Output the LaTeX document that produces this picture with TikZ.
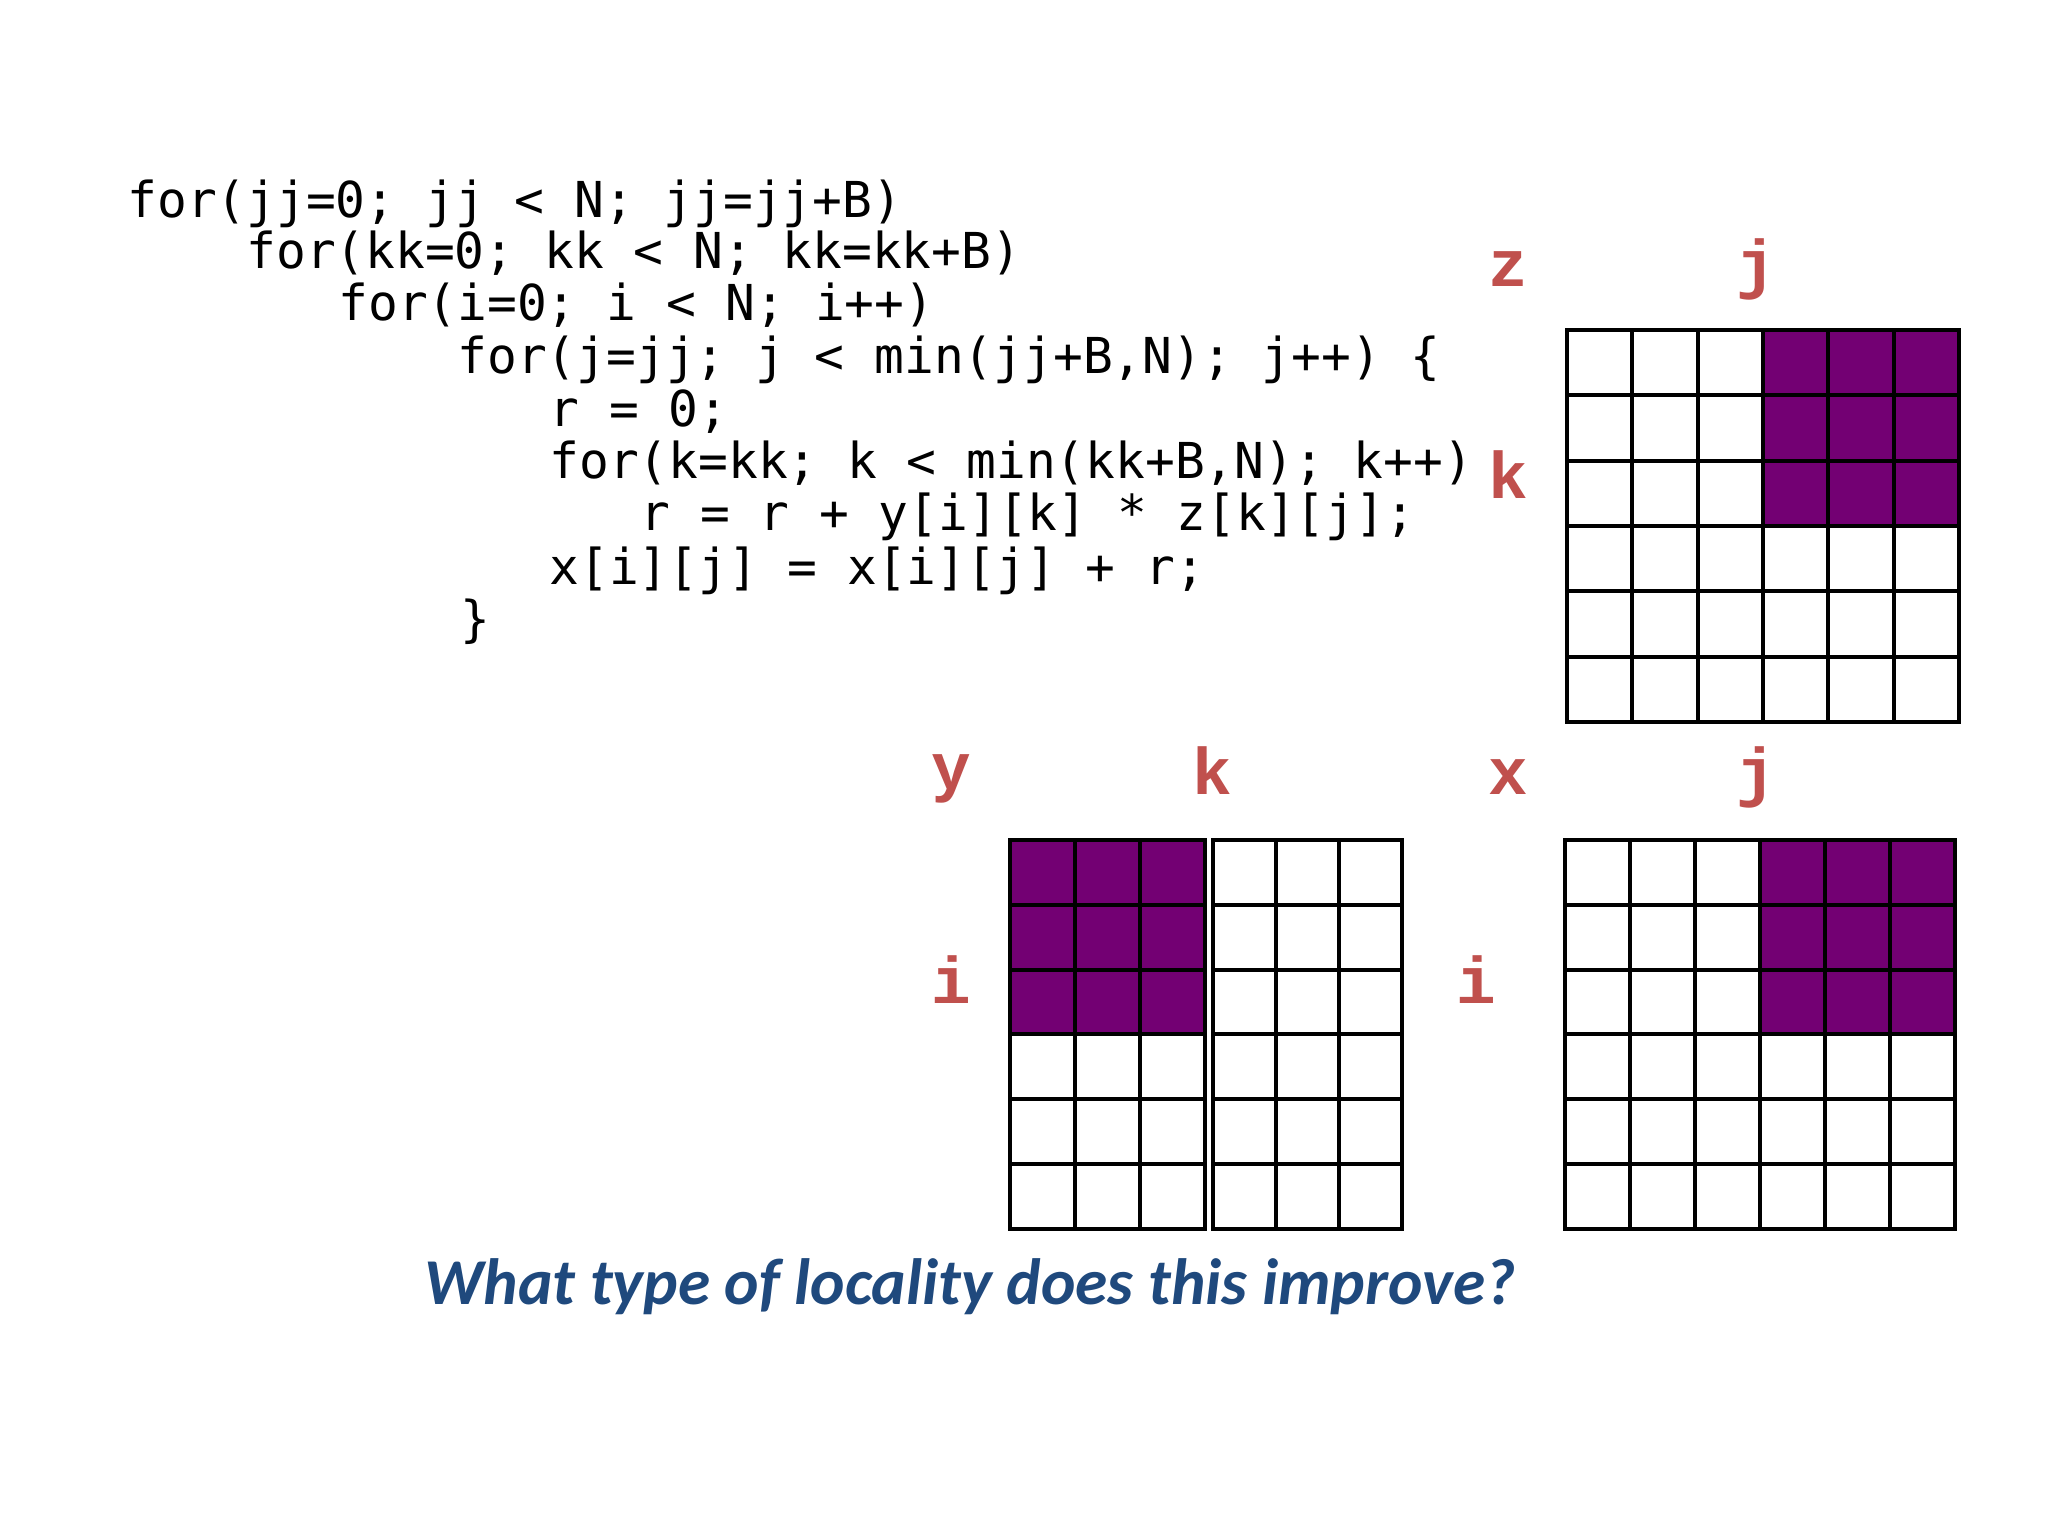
\documentclass[tikz,border=0pt]{standalone}
\usepackage{fontspec}
\setmonofont{DejaVu Sans Mono}
\newfontfamily\labfont{Liberation Mono}
\newfontfamily\askfont{Carlito}
\usetikzlibrary{positioning}
\definecolor{idxred}{RGB}{192,80,77}
\definecolor{blockpurple}{RGB}{115,0,115}
\definecolor{askblue}{RGB}{31,73,125}

\begin{document}
\begin{tikzpicture}[x=0.5pt, y=-0.5pt,
  codeline/.style={anchor=base west, inner sep=0pt, font=\fontsize{24.75}{26}\selectfont\ttfamily},
  idx/.style={anchor=base, inner sep=0pt, text=idxred, font=\fontsize{33}{36}\selectfont\labfont\bfseries},
  cellline/.style={line width=2pt, black, line cap=rect}]
  \useasboundingbox[fill=white] (0,0) rectangle (2048,1536);

  % blocked loop nest
  \node[codeline] (l1) at (127,217) {for(jj=0; jj < N; jj=jj+B)};
  \node[codeline] (l2) at (246,268) {for(kk=0; kk < N; kk=kk+B)};
  \node[codeline] (l3) at (338,320) {for(i=0; i < N; i++)};
  \node[codeline] (l4) at (457,373) {for(j=jj; j < min(jj+B,N); j++) \{};
  \node[codeline] (l5) at (549,426) {r = 0;};
  \node[codeline] (l6) at (549,478) {for(k=kk; k < min(kk+B,N); k++)};
  \node[codeline] (l7) at (640,530) {r = r + y[i][k] * z[k][j];};
  \node[codeline] (l8) at (549,584) {x[i][j] = x[i][j] + r;};
  \node[codeline] (l9) at (460,636) {\}};

  % z: k x j
  \node[idx] (zname) at (1508,286) {z};
  \node[idx] (zcol) at (1756,286) {j};
  \node[idx] (zrow) at (1508,498) {k};
  \begin{scope}[shift={(1567,330)}, x=32.65pt, y=-32.65pt]
    \fill[blockpurple] (3,0) rectangle (6,3);
    \foreach \c in {0,...,6} {
      \draw[cellline] (\c,0) -- (\c,6);
      \draw[cellline] (0,\c) -- (6,\c);
    }
  \end{scope}

  % y: i x k (two halves)
  \node[idx] (yname) at (951,789) {y};
  \node[idx] (ycol) at (1212,794) {k};
  \node[idx] (yrow) at (951,1003) {i};
  \begin{scope}[shift={(1010,840)}, x=32.5pt, y=-32.4pt]
    \fill[blockpurple] (0,0) rectangle (3,3);
    \foreach \c in {0,...,3}
      \draw[cellline] (\c,0) -- (\c,6);
    \foreach \c in {0,...,6}
      \draw[cellline] (0,\c) -- (3,\c);
  \end{scope}
  \begin{scope}[shift={(1213,840)}, x=31.5pt, y=-32.4pt]
    \foreach \c in {0,...,3}
      \draw[cellline] (\c,0) -- (\c,6);
    \foreach \c in {0,...,6}
      \draw[cellline] (0,\c) -- (3,\c);
  \end{scope}

  % x: i x j
  \node[idx] (xname) at (1508,794) {x};
  \node[idx] (xcol) at (1756,794) {j};
  \node[idx] (xrow) at (1476,1003) {i};
  \begin{scope}[shift={(1565,840)}, x=32.5pt, y=-32.4pt]
    \fill[blockpurple] (3,0) rectangle (6,3);
    \foreach \c in {0,...,6} {
      \draw[cellline] (\c,0) -- (\c,6);
      \draw[cellline] (0,\c) -- (6,\c);
    }
  \end{scope}

  % question
  \node[anchor=base, inner sep=0pt, text=askblue,
        font=\fontsize{32.7}{36}\selectfont\askfont\bfseries\itshape]
    (ask) at (970,1304) {What type of locality does this improve?};
\end{tikzpicture}
\end{document}
